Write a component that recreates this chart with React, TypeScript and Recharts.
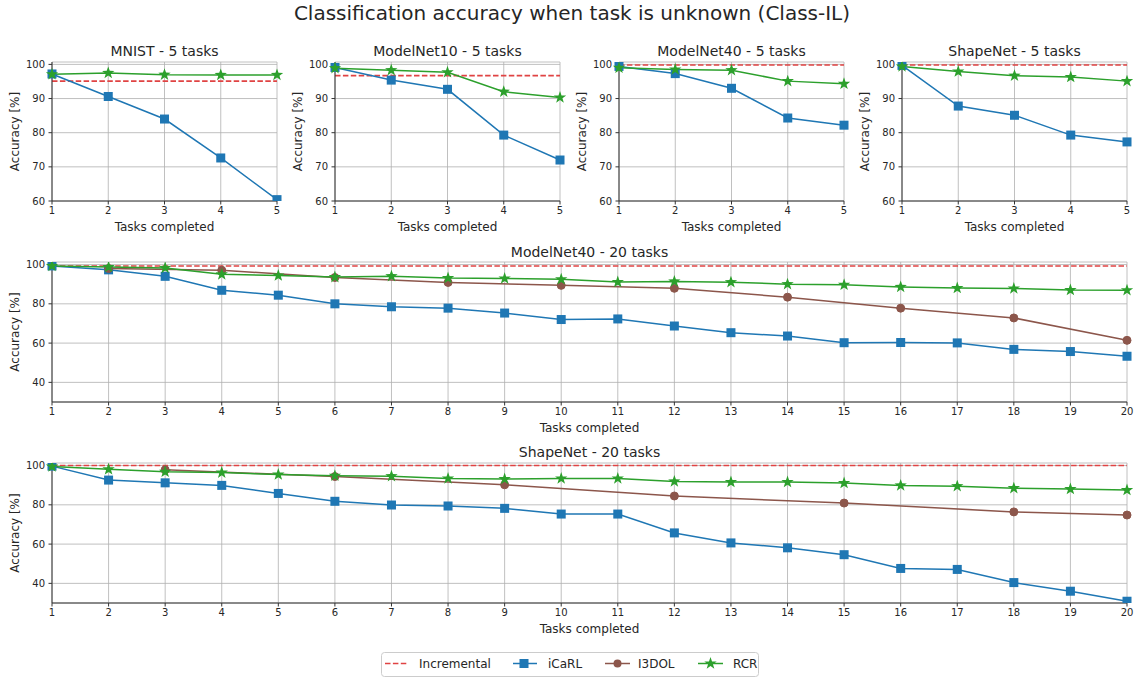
import { LineChart, Line, XAxis, YAxis, CartesianGrid, ReferenceLine } from 'recharts'

const FONT = "'DejaVu Sans', 'Liberation Sans', sans-serif"
const TEXT = '#262626'
const SPINE = '#333333'
const GRID = '#b0b0b0'

const C_INCR = '#e04343'
const C_ICARL = '#1f77b4'
const C_I3DOL = '#8c564b'
const C_RCR = '#2ca02c'

// x categories
const tasks5 = [1, 2, 3, 4, 5]
const tasks20 = [1, 2, 3, 4, 5, 6, 7, 8, 9, 10, 11, 12, 13, 14, 15, 16, 17, 18, 19, 20]

// y ticks
const ticksTop = [60, 70, 80, 90, 100]
const ticksWide = [40, 60, 80, 100]

// MNIST - 5 tasks
const mnistIncremental = 95.1
const mnistIcarl = [97.2, 90.6, 84.0, 72.6, 60.4]
const mnistRcr = [97.1, 97.5, 97.0, 96.9, 96.9]

// ModelNet10 - 5 tasks
const mn10Incremental = 96.7
const mn10Icarl = [99.1, 95.4, 92.7, 79.3, 72.0]
const mn10Rcr = [98.9, 98.3, 97.7, 92.0, 90.3]

// ModelNet40 - 5 tasks
const mn40Incremental = 99.8
const mn40Icarl = [99.4, 97.3, 93.0, 84.3, 82.2]
const mn40Rcr = [99.0, 98.5, 98.3, 95.1, 94.3]

// ShapeNet - 5 tasks
const snIncremental = 99.8
const snIcarl = [99.7, 87.8, 85.1, 79.3, 77.3]
const snRcr = [99.4, 97.9, 96.7, 96.3, 95.1]

// ModelNet40 - 20 tasks
const mn40x20Incremental = 99.3
const mn40x20Icarl = [99.3, 97.3, 94.0, 86.9, 84.4, 80.0, 78.5, 77.8, 75.3, 72.0, 72.3, 68.7, 65.3, 63.6, 60.2, 60.3, 60.1, 56.8, 55.7, 53.3]
const mn40x20I3dol = [null, 98.0, null, 97.1, null, 93.4, null, 90.9, null, 89.4, null, 87.9, null, 83.4, null, 77.8, null, 72.8, null, 61.4]
const mn40x20Rcr = [99.3, 98.7, 98.3, 95.0, 94.4, 93.6, 94.1, 93.1, 92.9, 92.5, 91.1, 91.4, 91.0, 90.0, 89.7, 88.6, 88.0, 87.8, 87.0, 86.9]

// ShapeNet - 20 tasks
const sn20Incremental = 100.0
const sn20Icarl = [99.7, 92.6, 91.2, 89.9, 85.8, 81.8, 79.9, 79.4, 78.2, 75.3, 75.3, 65.7, 60.6, 58.1, 54.6, 47.6, 47.1, 40.4, 36.0, 30.9]
const sn20I3dol = [null, null, 97.8, null, null, 94.4, null, null, 90.2, null, null, 84.5, null, null, 80.9, null, null, 76.4, null, 74.8]
const sn20Rcr = [99.5, 98.1, 96.8, 96.4, 95.4, 94.8, 94.6, 93.4, 93.1, 93.4, 93.4, 91.9, 91.6, 91.6, 91.1, 89.9, 89.5, 88.5, 88.0, 87.5]

function starPoints(cx: number, cy: number, R: number, r: number) {
  const pts: string[] = []
  for (let i = 0; i < 10; i++) {
    const rad = i % 2 === 0 ? R : r
    const a = -Math.PI / 2 + (i * Math.PI) / 5
    pts.push(`${(cx + rad * Math.cos(a)).toFixed(2)},${(cy + rad * Math.sin(a)).toFixed(2)}`)
  }
  return pts.join(' ')
}

const valid = (v: any) => typeof v === 'number' && !Number.isNaN(v)

function renderSquare(props: any) {
  const { cx, cy, index } = props
  if (!valid(cx) || !valid(cy)) return <g key={`sq-${index}`} />
  return <rect key={`sq-${index}`} x={cx - 4.5} y={cy - 4.5} width={9} height={9} fill={C_ICARL} />
}

function renderStar(props: any) {
  const { cx, cy, index } = props
  if (!valid(cx) || !valid(cy)) return <g key={`st-${index}`} />
  return <polygon key={`st-${index}`} points={starPoints(cx, cy, 6.5, 2.6)} fill={C_RCR} />
}

const tickStyle = { fontSize: 10, fill: TEXT, fontFamily: FONT }
const labelStyle = { fontSize: 12, fill: TEXT, fontFamily: FONT, textAnchor: 'middle' as const }

interface PanelProps {
  title: string
  left: number
  top: number
  plotWidth: number
  plotHeight: number
  marginTop: number
  titleY: number
  tasks: number[]
  yDomain: [number, number]
  yTicks: number[]
  incremental: number
  icarl: number[]
  rcr: number[]
  i3dol?: (number | null)[]
}

function Panel(p: PanelProps) {
  const yAxisW = 52
  const rightPad = 12
  const xAxisH = 40
  const width = yAxisW + p.plotWidth + rightPad
  const height = p.marginTop + p.plotHeight + xAxisH
  const data = p.tasks.map((t, i) => ({
    task: t,
    icarl: p.icarl[i],
    rcr: p.rcr[i],
    i3dol: p.i3dol ? p.i3dol[i] : null,
  }))
  const centerX = p.left + yAxisW + p.plotWidth / 2
  return (
    <>
      <div
        style={{
          position: 'absolute',
          left: centerX - 200,
          top: p.titleY - 10,
          width: 400,
          height: 20,
          lineHeight: '20px',
          textAlign: 'center',
          fontSize: 14,
          fontFamily: FONT,
          color: TEXT,
        }}
      >
        {p.title}
      </div>
      <div style={{ position: 'absolute', left: p.left, top: p.top }}>
        <LineChart width={width} height={height} data={data} margin={{ top: p.marginTop, right: rightPad, bottom: 0, left: 0 }}>
          <CartesianGrid stroke={GRID} strokeWidth={0.8} />
          <XAxis
            dataKey="task"
            type="number"
            domain={[p.tasks[0], p.tasks[p.tasks.length - 1]]}
            ticks={p.tasks}
            interval={0}
            height={xAxisH}
            tick={tickStyle}
            tickSize={3.5}
            tickMargin={2.5}
            stroke={SPINE}
            tickLine={{ stroke: SPINE }}
            axisLine={{ stroke: SPINE, strokeWidth: 1 }}
            label={{ value: 'Tasks completed', position: 'insideBottom', offset: 10, style: labelStyle }}
          />
          <YAxis
            type="number"
            domain={p.yDomain}
            ticks={p.yTicks}
            interval={0}
            width={yAxisW}
            tick={tickStyle}
            tickSize={3.5}
            tickMargin={3.5}
            stroke={SPINE}
            tickLine={{ stroke: SPINE }}
            axisLine={{ stroke: SPINE, strokeWidth: 1 }}
            allowDataOverflow
            label={{ value: 'Accuracy [%]', angle: -90, position: 'insideLeft', offset: 15, style: labelStyle }}
          />
          <ReferenceLine y={p.incremental} stroke={C_INCR} strokeWidth={1.6} strokeDasharray="5.5 2.4" />
          <Line
            dataKey="icarl"
            stroke={C_ICARL}
            strokeWidth={1.5}
            dot={renderSquare}
            activeDot={false}
            isAnimationActive={false}
          />
          {p.i3dol && (
            <Line
              dataKey="i3dol"
              stroke={C_I3DOL}
              strokeWidth={1.5}
              connectNulls
              dot={{ r: 4, fill: C_I3DOL, stroke: C_I3DOL, strokeWidth: 1 }}
              activeDot={false}
              isAnimationActive={false}
            />
          )}
          <Line
            dataKey="rcr"
            stroke={C_RCR}
            strokeWidth={1.5}
            dot={renderStar}
            activeDot={false}
            isAnimationActive={false}
          />
        </LineChart>
      </div>
    </>
  )
}

function LegendBox() {
  const y = 11.5
  const textProps = { fontSize: 12, fill: TEXT, fontFamily: FONT, dominantBaseline: 'central' as const }
  return (
    <svg style={{ position: 'absolute', left: 381, top: 652 }} width={380} height={26}>
      <rect x={0.5} y={0.5} width={377} height={24} rx={3} fill="#fff" stroke="#cccccc" />
      <line x1={4} x2={26} y1={y} y2={y} stroke={C_INCR} strokeWidth={1.6} strokeDasharray="5.5 2.4" />
      <text x={38} y={y} {...textProps}>Incremental</text>
      <line x1={132} x2={156} y1={y} y2={y} stroke={C_ICARL} strokeWidth={1.5} />
      <rect x={143 - 4.5} y={y - 4.5} width={9} height={9} fill={C_ICARL} />
      <text x={167} y={y} {...textProps}>iCaRL</text>
      <line x1={224} x2={249} y1={y} y2={y} stroke={C_I3DOL} strokeWidth={1.5} />
      <circle cx={236.5} cy={y} r={4} fill={C_I3DOL} />
      <text x={257} y={y} {...textProps}>I3DOL</text>
      <line x1={317} x2={342} y1={y} y2={y} stroke={C_RCR} strokeWidth={1.5} />
      <polygon points={starPoints(329.5, y, 6.5, 2.6)} fill={C_RCR} />
      <text x={352} y={y} {...textProps}>RCR</text>
    </svg>
  )
}

export default function App() {
  const topProps = {
    top: 40,
    plotWidth: 225,
    plotHeight: 139,
    marginTop: 22,
    titleY: 51,
    tasks: tasks5,
    yDomain: [60, 100.7] as [number, number],
    yTicks: ticksTop,
  }
  const wideProps = {
    left: 0,
    plotWidth: 1075,
    plotHeight: 140,
    marginTop: 10,
    tasks: tasks20,
    yDomain: [30, 101.3] as [number, number],
    yTicks: ticksWide,
  }
  return (
    <div
      style={{
        position: 'absolute',
        left: 0,
        top: 0,
        width: 1136,
        height: 679,
        background: '#fff',
        fontFamily: FONT,
        overflow: 'hidden',
      }}
    >
      <div
        style={{
          position: 'absolute',
          left: 272,
          top: 1,
          width: 600,
          height: 24,
          lineHeight: '24px',
          textAlign: 'center',
          fontSize: 20,
          color: TEXT,
        }}
      >
        Classification accuracy when task is unknown (Class-IL)
      </div>
      <Panel {...topProps} title="MNIST - 5 tasks" left={0} incremental={mnistIncremental} icarl={mnistIcarl} rcr={mnistRcr} />
      <Panel {...topProps} title="ModelNet10 - 5 tasks" left={283} incremental={mn10Incremental} icarl={mn10Icarl} rcr={mn10Rcr} />
      <Panel {...topProps} title="ModelNet40 - 5 tasks" left={567} incremental={mn40Incremental} icarl={mn40Icarl} rcr={mn40Rcr} />
      <Panel {...topProps} title="ShapeNet - 5 tasks" left={850} incremental={snIncremental} icarl={snIcarl} rcr={snRcr} />
      <Panel
        {...wideProps}
        title="ModelNet40 - 20 tasks"
        top={252}
        titleY={252}
        incremental={mn40x20Incremental}
        icarl={mn40x20Icarl}
        i3dol={mn40x20I3dol}
        rcr={mn40x20Rcr}
      />
      <Panel
        {...wideProps}
        title="ShapeNet - 20 tasks"
        top={453}
        titleY={452}
        incremental={sn20Incremental}
        icarl={sn20Icarl}
        i3dol={sn20I3dol}
        rcr={sn20Rcr}
      />
      <LegendBox />
    </div>
  )
}
